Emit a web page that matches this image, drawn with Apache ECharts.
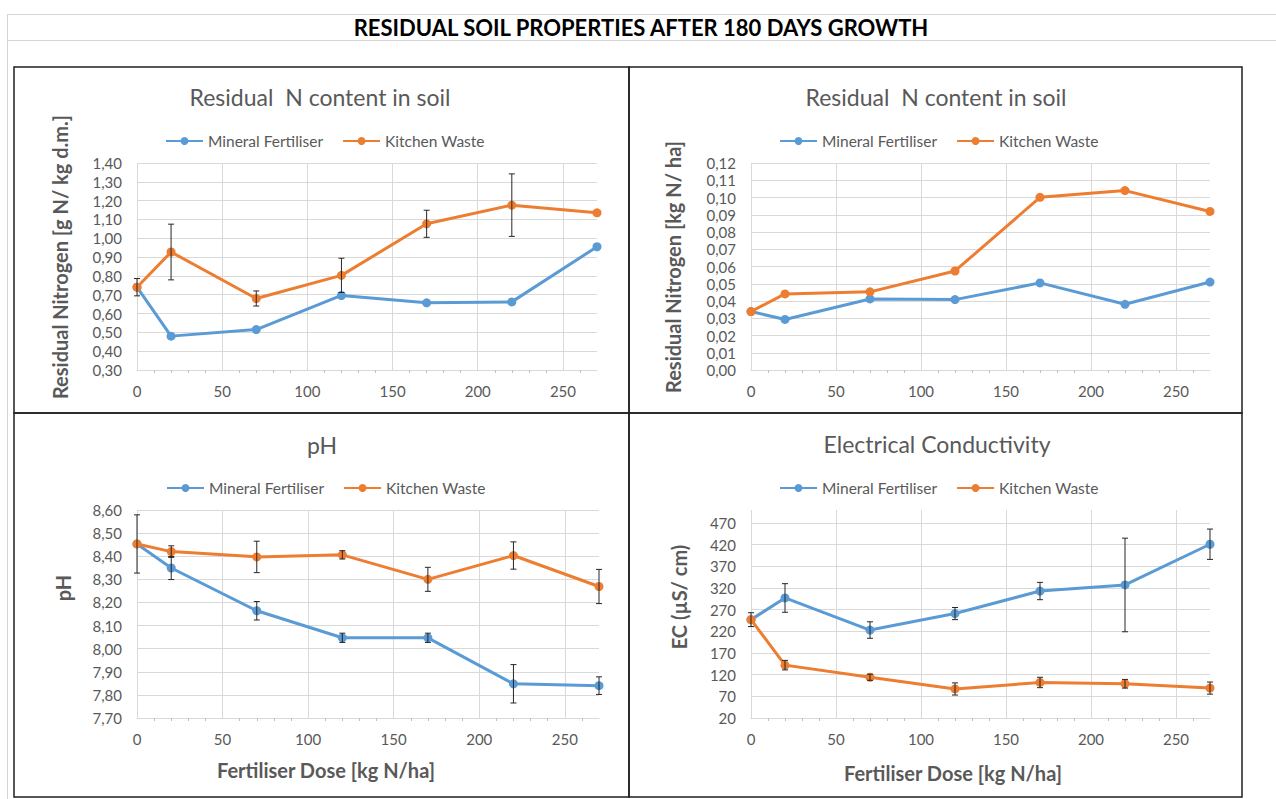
<!DOCTYPE html>
<html><head><meta charset="utf-8">
<script src="https://cdn.jsdelivr.net/npm/echarts@6/dist/echarts.min.js"></script>
<style>html,body{margin:0;padding:0;background:#fff}#chart{width:1276px;height:799px}</style>
</head><body><div id="chart"></div>
<script>
// ---- data ----
const mainTitle = 'RESIDUAL SOIL PROPERTIES AFTER 180 DAYS GROWTH';
const seriesNames = ['Mineral Fertiliser', 'Kitchen Waste'];
const doses = [0, 20, 70, 120, 170, 220, 270];

// Residual N [g N / kg d.m.]
const nMineral = [0.740, 0.480, 0.515, 0.696, 0.657, 0.662, 0.955];
const nKitchen = [0.740, 0.927, 0.680, 0.803, 1.077, 1.176, 1.135];
const nMineralErr = [0, 0, 0, 0, 0, 0, 0];
const nKitchenErr = [0.046, 0.148, 0.040, 0.091, 0.072, 0.166, 0];

// Residual N [kg N / ha]
const haMineral = [0.0339, 0.0293, 0.0412, 0.0408, 0.0505, 0.0381, 0.0510];
const haKitchen = [0.0339, 0.0441, 0.0453, 0.0574, 0.1001, 0.1040, 0.0919];

// pH
const phMineral = [8.453, 8.349, 8.164, 8.047, 8.047, 7.848, 7.840];
const phKitchen = [8.453, 8.420, 8.397, 8.406, 8.300, 8.403, 8.269];
const phMineralErr = [0.126, 0.050, 0.040, 0.020, 0.020, 0.083, 0.038];
const phKitchenErr = [0, 0.025, 0.068, 0.018, 0.052, 0.059, 0.074];

// EC [µS/cm]
const ecMineral = [247, 297, 223, 261, 313, 327, 421];
const ecKitchen = [247, 142, 114, 87, 102, 99, 89];
const ecMineralErr = [16, 33, 19, 14, 20, 108, 35];
const ecKitchenErr = [0, 11, 7, 14, 12, 10, 14];

// axis ticks
const xAxisTicks = { min: 0, max: 270, interval: 50 };
const nAxisTicks = { min: 0.3, max: 1.4, interval: 0.1, decimals: 2 };
const haAxisTicks = { min: 0, max: 0.12, interval: 0.01, decimals: 2 };
const phAxisTicks = { min: 7.7, max: 8.6, interval: 0.1, decimals: 2 };
const ecAxisTicks = { min: 20, max: 500, interval: 50, decimals: 0 };

const chartTitles = ['Residual  N content in soil', 'Residual  N content in soil', 'pH', 'Electrical Conductivity'];
const yNames = ['Residual Nitrogen [g N/ kg d.m.]', 'Residual Nitrogen [kg N/ ha]', 'pH', 'EC (µS/ cm)'];
const xName = 'Fertiliser Dose [kg N/ha]';

// ---- style / layout ----
const BLUE = '#5B9BD5', ORANGE = '#ED7D31', GREY = '#595959', GRID = '#D9D9D9';
const FONT = 'Lato, "Open Sans", sans-serif';

const panels = [
  { grid: { left: 137, top: 163, width: 460, height: 207 }, y: nAxisTicks, m: nMineral, k: nKitchen, mE: nMineralErr, kE: nKitchenErr,
    title: [320, 97], legend: [165, 141], yName: [60, 257], xName: null, box: [14, 67, 615, 346] },
  { grid: { left: 751, top: 163, width: 459, height: 207 }, y: haAxisTicks, m: haMineral, k: haKitchen, mE: null, kE: null,
    title: [936, 97], legend: [779, 141], yName: [673, 267], xName: null, box: [629, 67, 613, 346] },
  { grid: { left: 137, top: 510, width: 462, height: 208 }, y: phAxisTicks, m: phMineral, k: phKitchen, mE: phMineralErr, kE: phKitchenErr,
    title: [322, 445], legend: [166, 488], yName: [63, 588], xName: [326, 770], box: [14, 413, 615, 384] },
  { grid: { left: 751, top: 510, width: 459, height: 208 }, y: ecAxisTicks, m: ecMineral, k: ecKitchen, mE: ecMineralErr, kE: ecKitchenErr,
    title: [937, 444], legend: [779, 488], yName: [679, 597], xName: [953, 773], box: [629, 413, 613, 384] }
];

const grids = [], xAxes = [], yAxes = [], series = [], legends = [], graphics = [];

// spreadsheet background lines
graphics.push({ type: 'line', shape: { x1: 7, y1: 14.5, x2: 1276, y2: 14.5 }, style: { stroke: '#D4D4D4', lineWidth: 1 }, silent: true });
graphics.push({ type: 'line', shape: { x1: 7, y1: 40.5, x2: 1276, y2: 40.5 }, style: { stroke: '#D4D4D4', lineWidth: 1 }, silent: true });
graphics.push({ type: 'line', shape: { x1: 7.5, y1: 14, x2: 7.5, y2: 799 }, style: { stroke: '#D4D4D4', lineWidth: 1 }, silent: true });
graphics.push({ type: 'text', x: 641, y: 27, silent: true,
  style: { text: mainTitle, fill: '#000', font: 'bold 22px ' + FONT, textAlign: 'center', textVerticalAlign: 'middle' } });

function errorSeries(idx, vals, errs) {
  const data = [];
  doses.forEach((d, j) => { if (errs[j] > 0) data.push([d, vals[j] - errs[j], vals[j] + errs[j]]); });
  return {
    type: 'custom', xAxisIndex: idx, yAxisIndex: idx, silent: true, z: 5, data: data,
    encode: { x: 0, y: [1, 2] },
    renderItem: function (params, api) {
      const x = api.value(0);
      const lo = api.coord([x, api.value(1)]);
      const hi = api.coord([x, api.value(2)]);
      const w = 3, st = { stroke: '#262626', lineWidth: 1 };
      return { type: 'group', children: [
        { type: 'line', shape: { x1: lo[0], y1: lo[1], x2: hi[0], y2: hi[1] }, style: st },
        { type: 'line', shape: { x1: lo[0] - w, y1: lo[1], x2: lo[0] + w, y2: lo[1] }, style: st },
        { type: 'line', shape: { x1: hi[0] - w, y1: hi[1], x2: hi[0] + w, y2: hi[1] }, style: st }
      ] };
    }
  };
}

panels.forEach((p, i) => {
  grids.push(Object.assign({ containLabel: false }, p.grid));
  xAxes.push({
    type: 'value', gridIndex: i, min: xAxisTicks.min, max: xAxisTicks.max, interval: xAxisTicks.interval,
    axisLine: { show: true, lineStyle: { color: GRID, width: 1 } },
    axisTick: { show: false },
    minorTick: { show: true, splitNumber: 5, length: 3, lineStyle: { color: '#BFBFBF' } },
    splitLine: { show: true, showMaxLine: false, lineStyle: { color: GRID, width: 1 } },
    axisLabel: { color: GREY, fontSize: 15, fontFamily: FONT, margin: 13, showMaxLabel: false }
  });
  const dec = p.y.decimals;
  yAxes.push({
    type: 'value', gridIndex: i, min: p.y.min, max: p.y.max, interval: p.y.interval,
    axisLine: { show: false }, axisTick: { show: false },
    splitLine: { show: true, showMaxLine: p.y.max !== 500, lineStyle: { color: GRID, width: 1 } },
    axisLabel: { color: GREY, fontSize: 15, fontFamily: FONT, margin: 15,
      showMaxLabel: p.y.max !== 500,
      formatter: v => Number(v).toFixed(dec).replace('.', ',') }
  });
  series.push({
    name: seriesNames[0], type: 'line', xAxisIndex: i, yAxisIndex: i, z: 3,
    data: doses.map((d, j) => [d, p.m[j]]),
    symbol: 'circle', symbolSize: 9, color: BLUE,
    lineStyle: { width: 3, color: BLUE }, itemStyle: { color: BLUE },
    emphasis: { disabled: true }, animation: false
  });
  series.push({
    name: seriesNames[1], type: 'line', xAxisIndex: i, yAxisIndex: i, z: 4,
    data: doses.map((d, j) => [d, p.k[j]]),
    symbol: 'circle', symbolSize: 9, color: ORANGE,
    lineStyle: { width: 3, color: ORANGE }, itemStyle: { color: ORANGE },
    emphasis: { disabled: true }, animation: false
  });
  if (p.mE) series.push(errorSeries(i, p.m, p.mE));
  if (p.kE) series.push(errorSeries(i, p.k, p.kE));

  legends.push({
    data: seriesNames, left: p.legend[0] - 5, top: p.legend[1] - 13, itemGap: 19, itemWidth: 37, itemHeight: 10,
    textStyle: { color: GREY, fontSize: 15.5, fontFamily: FONT, lineHeight: 16 }, selectedMode: false
  });

  graphics.push({ type: 'rect', shape: { x: p.box[0], y: p.box[1], width: p.box[2], height: p.box[3] },
    style: { fill: 'none', stroke: '#1F1F1F', lineWidth: 1.5 }, silent: true, z: -1 });
  graphics.push({ type: 'text', x: p.title[0], y: p.title[1], silent: true,
    style: { text: chartTitles[i], fill: GREY, font: '23px ' + FONT, textAlign: 'center', textVerticalAlign: 'middle' } });
  graphics.push({ type: 'text', x: p.yName[0], y: p.yName[1], rotation: Math.PI / 2, silent: true,
    style: { text: yNames[i], fill: GREY, font: 'bold 20px ' + FONT, textAlign: 'center', textVerticalAlign: 'middle' } });
  if (p.xName) graphics.push({ type: 'text', x: p.xName[0], y: p.xName[1], silent: true,
    style: { text: xName, fill: GREY, font: 'bold 20px ' + FONT, textAlign: 'center', textVerticalAlign: 'middle' } });
});

const chart = echarts.init(document.getElementById('chart'), null, { renderer: 'svg', width: 1276, height: 799 });
chart.setOption({
  animation: false,
  backgroundColor: '#fff',
  grid: grids, xAxis: xAxes, yAxis: yAxes, series: series, legend: legends,
  graphic: graphics
});
</script></body></html>
